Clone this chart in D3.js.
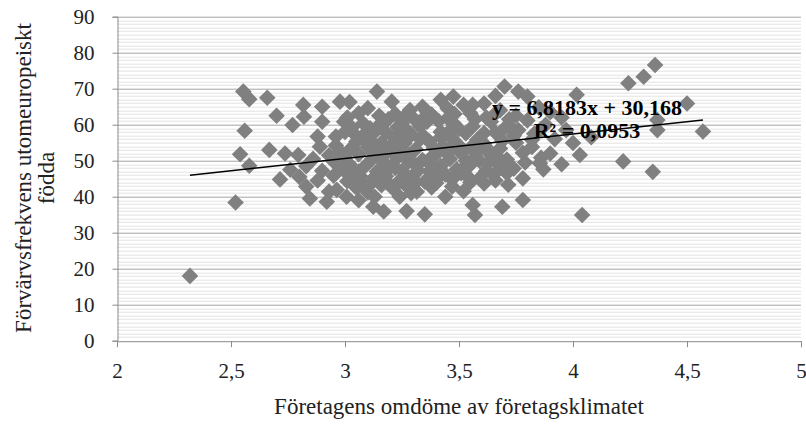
<!DOCTYPE html>
<html>
<head>
<meta charset="utf-8">
<script src="https://cdn.jsdelivr.net/npm/d3@7"></script>
<style>
  body { margin: 0; background: #fff; }
  text { font-family: "Liberation Serif", "DejaVu Serif", serif; }
</style>
</head>
<body>
<div id="scatter"></div>
<script>

// data: [omdöme, förvärvsfrekvens]
var kommuner = [
  [2.32,18.0],[2.52,38.4],[2.554,69.2],[2.58,67.1],[2.659,67.5],[2.70,62.5],[2.56,58.3],[2.54,51.8],[2.58,48.6],[2.668,53.0],
  [2.715,44.8],[2.737,52.0],[2.795,51.6],[2.77,59.9],[2.817,65.5],[2.82,62.2],[2.90,65.0],[2.90,60.8],[2.978,66.4],[2.996,60.8],
  [3.14,69.2],[3.10,64.6],[3.205,66.4],[3.42,66.9],[3.475,67.8],[3.61,65.9],[3.70,70.6],[3.76,69.2],[3.80,67.8],[3.66,68.0],[3.34,65.0],[3.02,66.3],
  [3.285,64.1],[3.55,63.2],[3.38,62.8],[3.22,63.0],[3.15,62.5],[3.45,64.5],[3.52,65.5],[3.68,64.0],[3.75,62.5],[3.85,64.8],[3.06,63.2],[3.30,61.8],[3.62,62.0],[3.90,63.5],
  [3.08,60.4],[3.15,59.9],[3.25,60.5],[3.33,59.5],[3.41,61.0],[3.48,60.2],[3.56,59.5],[3.64,60.8],[3.72,59.8],[3.80,61.2],[3.88,60.0],[3.97,58.5],[3.19,61.5],[3.36,60.8],[3.03,59.2],
  [2.88,56.7],[2.96,56.7],[3.04,57.5],[3.11,56.8],[3.18,57.8],[3.22,56.2],[3.29,57.4],[3.35,56.5],[3.42,58.0],[3.46,56.8],[3.53,57.6],[3.59,56.3],[3.66,57.8],[3.74,56.9],[3.83,57.5],[3.92,56.0],[3.27,58.5],[3.50,58.8],[3.14,58.6],[3.00,58.0],
  [2.89,53.9],[3.05,55.3],[2.96,54.2],[3.10,53.8],[3.16,55.0],[3.21,53.5],[3.26,54.8],[3.31,53.2],[3.37,55.3],[3.43,54.0],[3.48,55.5],[3.55,53.6],[3.61,54.7],[3.68,53.4],[3.75,55.0],[3.82,53.8],[4.00,54.9],[3.02,53.0],[3.39,53.5],[3.58,55.8],[3.13,54.5],
  [2.86,50.5],[2.93,51.5],[3.00,50.8],[3.06,51.8],[3.12,50.5],[3.18,52.0],[3.23,50.8],[3.28,51.5],[3.34,50.2],[3.40,51.8],[3.46,50.5],[3.51,52.0],[3.57,50.8],[3.64,51.5],[3.71,50.3],[3.78,52.2],[3.86,50.8],[4.03,51.6],[4.22,49.8],[3.44,52.5],
  [2.76,47.5],[2.83,48.5],[2.90,47.2],[2.97,48.8],[3.03,47.5],[3.09,48.6],[3.14,47.0],[3.20,48.4],[3.25,47.2],[3.31,48.8],[3.37,47.0],[3.42,48.5],[3.49,47.6],[3.55,48.9],[3.62,47.3],[3.68,48.5],[3.855,49.3],[3.87,47.6],[3.74,47.8],[3.17,49.5],
  [2.80,45.5],[2.88,44.5],[2.95,45.8],[3.01,44.3],[3.07,45.5],[3.12,44.0],[3.18,45.7],[3.24,44.5],[3.30,45.9],[3.35,44.2],[3.41,45.4],[3.47,44.8],[3.59,45.1],[3.65,46.0],[3.716,43.3],[3.78,45.1],[3.61,43.7],
  [2.83,42.8],[2.93,41.4],[2.964,41.9],[3.05,42.5],[3.10,41.2],[3.21,42.3],[3.27,43.0],[3.315,41.4],[3.38,42.6],[3.47,42.8],[3.52,41.5],[3.16,43.2],
  [2.846,39.5],[2.92,38.6],[3.007,40.0],[3.06,39.0],[3.24,40.0],[3.78,39.1],[3.56,37.7],[3.69,37.2],
  [3.124,37.2],[3.17,35.9],[3.27,36.0],[3.35,35.1],[3.57,34.9],[4.04,34.9],
  [4.243,71.5],[4.016,68.3],[4.36,76.6],[4.31,73.3],[4.50,65.9],[4.37,61.3],[4.37,58.5],[4.57,58.1],[4.35,46.9],[3.95,62.0],[4.08,56.5],
  // the dense middle
  [3.08,57.0],[3.12,52.5],[3.17,46.5],[3.23,59.2],[3.28,49.8],[3.33,56.0],[3.38,51.0],[3.44,46.2],[3.47,59.0],[3.53,50.0],
  [3.57,61.5],[3.63,49.5],[3.69,55.5],[3.72,61.5],[3.26,62.2],[3.20,54.2],[3.14,51.5],[3.02,49.0],[2.98,52.5],[3.36,63.6],
  [3.48,63.0],[3.58,52.3],[3.66,44.5],[3.40,43.8],[3.29,41.0],[3.13,40.0],[3.44,40.0],[3.55,44.0],[3.70,59.0],[3.82,55.8],
  [3.90,52.0],[3.95,49.0],[3.04,46.0],[3.09,43.0],[3.32,47.3],[3.46,53.0],[3.25,52.5],[3.51,46.5],[3.61,57.7],[3.86,58.8],
  [3.01,62.0],[3.06,47.0],[3.11,59.0],[3.16,53.0],[3.19,43.8],[3.22,48.0],[3.27,55.8],[3.31,44.0],[3.34,61.5],[3.39,46.0],
  [3.42,56.5],[3.45,61.8],[3.50,54.2],[3.54,45.5],[3.59,50.0],[3.63,53.0],[3.67,51.0],[3.71,46.5],[3.76,58.5],[3.79,49.5],
  [3.00,47.0],[2.95,49.8],[3.09,55.5],[3.24,57.0],[3.37,49.2],[3.52,48.0],[3.56,65.5],[3.65,62.5],[3.13,45.5],[3.28,45.0]
];

var xTicks = [2, 2.5, 3, 3.5, 4, 4.5, 5];
var yTicks = [0, 10, 20, 30, 40, 50, 60, 70, 80, 90];

// linear trend from the chart
var lutning = 6.8183;
var intercept = 30.168;
var rTva = "0,0953";
var trendFrom = 2.32;
var trendTo = 4.57;

var xTitle = "Företagens omdöme av företagsklimatet";
var yTitle = ["Förvärvsfrekvens utomeuropeiskt", "födda"];

var svgWidth = 806;
var svgHeight = 425;
var margin = { top: 16.7, right: 5, bottom: 84.3, left: 117 };
var width = svgWidth - margin.left - margin.right;
var height = svgHeight - margin.top - margin.bottom;

var svg = d3.select("#scatter")
  .append("svg")
  .attr("width", svgWidth)
  .attr("height", svgHeight);

var chartGroup = svg.append("g")
  .attr("transform", `translate(${margin.left}, ${margin.top})`);

var xScale = d3.scaleLinear().domain([2, 5]).range([0, width]);
var yScale = d3.scaleLinear().domain([0, 90]).range([height, 0]);

// minor gridlines every unit, major every ten
chartGroup.append("g")
  .selectAll("line")
  .data(d3.range(1, 90).filter(d => d % 10 !== 0))
  .enter()
  .append("line")
  .attr("x1", 0)
  .attr("x2", width)
  .attr("y1", d => Math.round(yScale(d)) + 0.5)
  .attr("y2", d => Math.round(yScale(d)) + 0.5)
  .attr("stroke", "#e2e2e2")
  .attr("stroke-width", 1);

chartGroup.append("g")
  .selectAll("line")
  .data(yTicks.filter(d => d > 0))
  .enter()
  .append("line")
  .attr("x1", 0)
  .attr("x2", width)
  .attr("y1", d => Math.round(yScale(d)) + 0.5)
  .attr("y2", d => Math.round(yScale(d)) + 0.5)
  .attr("stroke", "#a6a6a6")
  .attr("stroke-width", 1);

// y axis
var leftAxis = d3.axisLeft(yScale)
  .tickValues(yTicks)
  .tickSize(5)
  .tickPadding(18)
  .tickFormat(d3.format("d"));

var yAxis = chartGroup.append("g")
  .attr("transform", "translate(0.5,0)")
  .call(leftAxis);

yAxis.select(".domain").attr("stroke", "#8c8c8c");
yAxis.selectAll(".tick line").attr("stroke", "#8c8c8c");
yAxis.selectAll(".tick text")
  .attr("font-size", "21px")
  .attr("font-family", "Liberation Serif, serif")
  .attr("fill", "#222");

// x axis
var bottomAxis = d3.axisBottom(xScale)
  .tickValues(xTicks)
  .tickSize(6)
  .tickPadding(16)
  .tickFormat(d => String(d).replace(".", ","));

var xAxis = chartGroup.append("g")
  .attr("transform", `translate(0, ${Math.round(height) + 0.5})`)
  .call(bottomAxis);

xAxis.select(".domain").attr("stroke", "#8c8c8c");
xAxis.selectAll(".tick line").attr("stroke", "#8c8c8c");
xAxis.selectAll(".tick text")
  .attr("font-size", "21px")
  .attr("font-family", "Liberation Serif, serif")
  .attr("fill", "#222");

// diamonds
var half = 8.3;
chartGroup.append("g")
  .selectAll("path")
  .data(kommuner)
  .enter()
  .append("path")
  .attr("transform", d => `translate(${xScale(d[0])}, ${yScale(d[1])})`)
  .attr("d", `M0,${-half}L${half},0L0,${half}L${-half},0Z`)
  .attr("fill", "#808080");

// trend line
chartGroup.append("line")
  .attr("x1", xScale(trendFrom))
  .attr("y1", yScale(lutning * trendFrom + intercept))
  .attr("x2", xScale(trendTo))
  .attr("y2", yScale(lutning * trendTo + intercept))
  .attr("stroke", "#000")
  .attr("stroke-width", 1.5);

// equation label
var eqGroup = svg.append("g")
  .attr("transform", "translate(587, 0)");

eqGroup.append("text")
  .attr("x", 0)
  .attr("y", 115)
  .attr("text-anchor", "middle")
  .attr("font-size", "22px")
  .attr("font-weight", "bold")
  .text(`y = ${String(lutning).replace(".", ",")}x + ${String(intercept).replace(".", ",")}`);

eqGroup.append("text")
  .attr("x", 0)
  .attr("y", 138)
  .attr("text-anchor", "middle")
  .attr("font-size", "22px")
  .attr("font-weight", "bold")
  .text(`R² = ${rTva}`);

// axis titles
svg.append("text")
  .attr("x", margin.left + width / 2)
  .attr("y", 414)
  .attr("text-anchor", "middle")
  .attr("font-size", "23px")
  .attr("fill", "#222")
  .text(xTitle);

var yTitleGroup = svg.append("g")
  .attr("transform", "translate(31, 178) rotate(-90)");

yTitleGroup.selectAll("text")
  .data(yTitle)
  .enter()
  .append("text")
  .attr("x", 0)
  .attr("y", (d, i) => i * 23)
  .attr("text-anchor", "middle")
  .attr("font-size", "23px")
  .attr("fill", "#222")
  .text(d => d);

</script>
</body>
</html>
